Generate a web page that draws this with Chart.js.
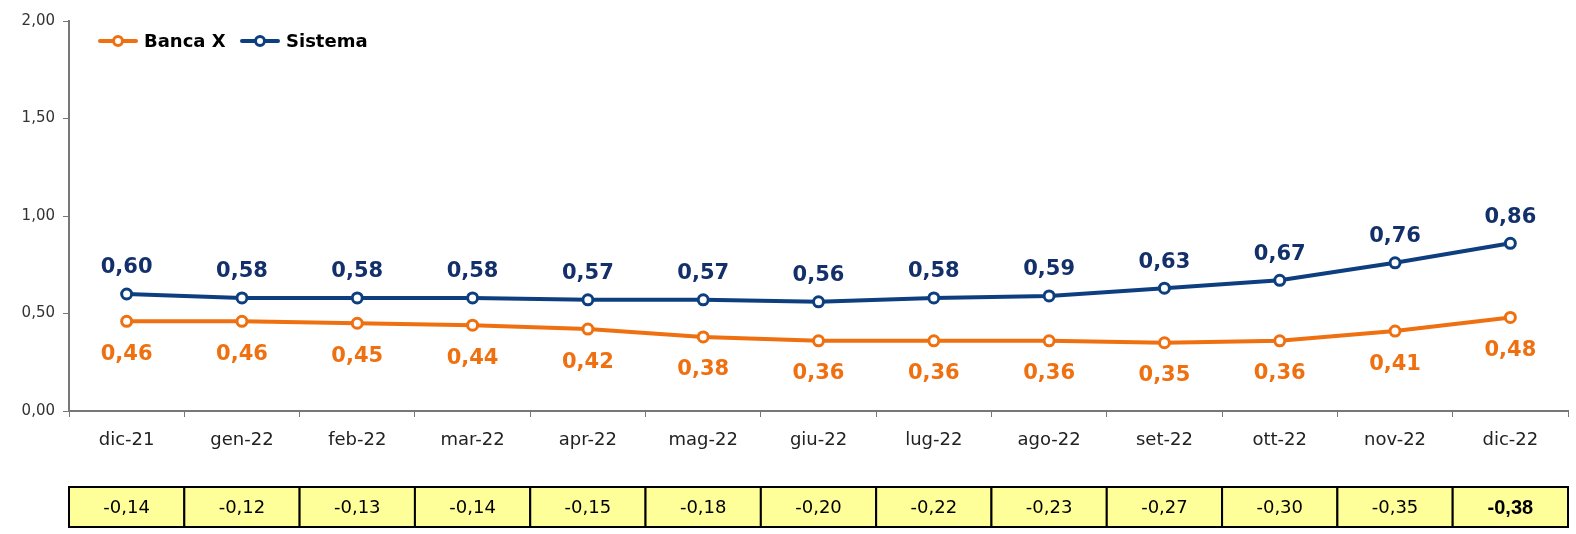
<!DOCTYPE html>
<html>
<head>
<meta charset="utf-8">
<script src="https://cdn.jsdelivr.net/npm/chart.js@4"></script>
<style>
  html, body { margin: 0; padding: 0; background: #fff; }
  #wrap { width: 1576px; height: 534px; position: relative; }
</style>
</head>
<body>
<div id="wrap"><canvas id="chart" width="1576" height="534"></canvas></div>
<script>
const months = ['dic-21','gen-22','feb-22','mar-22','apr-22','mag-22','giu-22','lug-22','ago-22','set-22','ott-22','nov-22','dic-22'];
const bancaX = [0.46, 0.46, 0.45, 0.44, 0.42, 0.38, 0.36, 0.36, 0.36, 0.35, 0.36, 0.41, 0.48];
const sistema = [0.60, 0.58, 0.58, 0.58, 0.57, 0.57, 0.56, 0.58, 0.59, 0.63, 0.67, 0.76, 0.86];
const spread = [-0.14, -0.12, -0.13, -0.14, -0.15, -0.18, -0.20, -0.22, -0.23, -0.27, -0.30, -0.35, -0.38];
const yTicks = [0, 0.5, 1, 1.5, 2];

const ORANGE = '#EF7010';
const BLUE = '#0D3F80';
const BLUE_TXT = '#13306A';
const fmt = v => v.toFixed(2).replace('.', ',');

// labels, legend and the yellow table under the axis
const extras = {
  id: 'extras',
  afterDatasetsDraw(chart) {
    const ctx = chart.ctx;
    ctx.save();
    ctx.font = 'bold 21px "DejaVu Sans", sans-serif';
    ctx.textAlign = 'center';
    ctx.textBaseline = 'middle';
    chart.getDatasetMeta(1).data.forEach((p, i) => {
      ctx.fillStyle = BLUE_TXT;
      ctx.fillText(fmt(sistema[i]), p.x, p.y - 26);
    });
    chart.getDatasetMeta(0).data.forEach((p, i) => {
      ctx.fillStyle = ORANGE;
      ctx.fillText(fmt(bancaX[i]), p.x, p.y + 33);
    });

    // legend
    const items = [['Banca X', ORANGE, 100], ['Sistema', BLUE, 242]];
    ctx.font = 'bold 18px "DejaVu Sans", sans-serif';
    ctx.textAlign = 'left';
    items.forEach(([name, col, x0]) => {
      ctx.strokeStyle = col;
      ctx.lineWidth = 4;
      ctx.lineCap = 'round';
      ctx.beginPath(); ctx.moveTo(x0, 41); ctx.lineTo(x0 + 36, 41); ctx.stroke();
      ctx.fillStyle = '#fff';
      ctx.lineWidth = 3;
      ctx.beginPath(); ctx.arc(x0 + 18, 41, 4.5, 0, Math.PI * 2); ctx.fill(); ctx.stroke();
      ctx.fillStyle = '#000';
      ctx.fillText(name, x0 + 44, 42);
    });

    // table
    const xs = chart.scales.x;
    const w = xs.width / months.length;
    const top = 487, h = 40;
    ctx.textAlign = 'center';
    spread.forEach((v, i) => {
      const left = xs.getPixelForValue(i) - w / 2;
      ctx.fillStyle = '#FFFF99';
      ctx.fillRect(left, top, w, h);
      ctx.strokeStyle = '#000';
      ctx.lineWidth = 2;
      ctx.strokeRect(left, top, w, h);
      ctx.fillStyle = '#000';
      ctx.font = (i === spread.length - 1 ? 'bold 20px "Liberation Sans", sans-serif' : '18px "DejaVu Sans", sans-serif');
      ctx.fillText(fmt(v), xs.getPixelForValue(i), top + h / 2 + 1);
    });
    ctx.restore();
  }
};

new Chart(document.getElementById('chart'), {
  type: 'line',
  data: {
    labels: months,
    datasets: [
      {
        label: 'Banca X', data: bancaX,
        borderColor: ORANGE, borderWidth: 4,
        pointRadius: 5, pointBorderWidth: 3,
        pointBackgroundColor: '#fff', pointBorderColor: ORANGE
      },
      {
        label: 'Sistema', data: sistema,
        borderColor: BLUE, borderWidth: 4,
        pointRadius: 5, pointBorderWidth: 3,
        pointBackgroundColor: '#fff', pointBorderColor: BLUE
      }
    ]
  },
  options: {
    responsive: false,
    animation: false,
    layout: { padding: { top: 21, right: 0, left: 0, bottom: 0 } },
    plugins: { legend: { display: false }, tooltip: { enabled: false } },
    scales: {
      x: {
        offset: true,
        grid: { offset: true, drawOnChartArea: false, color: '#777', tickLength: 6 },
        border: { color: '#777', width: 2 },
        ticks: { color: '#222', font: { family: '"DejaVu Sans", sans-serif', size: 18 }, padding: 13, maxRotation: 0 },
        afterFit(s) { s.height = 123; }
      },
      y: {
        min: 0, max: 2,
        afterBuildTicks(s) { s.ticks = yTicks.map(v => ({ value: v })); },
        grid: { drawOnChartArea: false, color: '#777', tickLength: 6 },
        border: { color: '#777', width: 2 },
        ticks: { color: '#333', font: { family: '"DejaVu Sans", sans-serif', size: 15 }, padding: 8, callback: v => fmt(v) },
        afterFit(s) { s.width = 69; }
      }
    }
  },
  plugins: [extras]
});
</script>
</body>
</html>
